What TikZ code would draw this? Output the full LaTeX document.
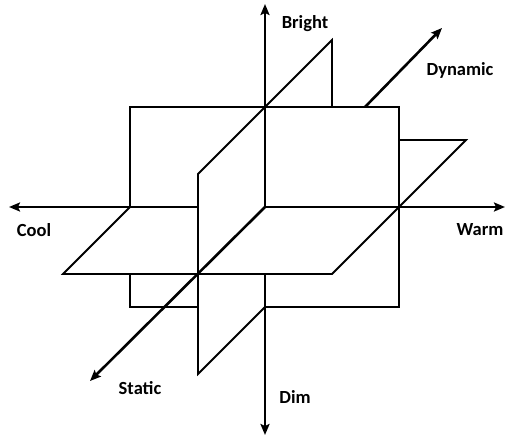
\documentclass[tikz,border=0pt]{standalone}
\usepackage{fontspec}
\setmainfont{Carlito}
\usetikzlibrary{arrows.meta}
\begin{document}
\begin{tikzpicture}[x=1pt,y=-1pt,
  plane/.style={line width=1.8pt, line join=miter},
  axis/.style={line width=2.6pt, -{Stealth[length=11pt,width=9pt,inset=2pt]}},
  lbl/.style={font=\fontsize{18.5}{22}\selectfont\bfseries, inner sep=0pt}]
\useasboundingbox (0,0) rectangle (506,436);
% key points
\coordinate (O) at (265,207);
\coordinate (A) at (130,107);
\coordinate (B) at (399,107);
\coordinate (C) at (399,307);
\coordinate (D) at (130,307);
\coordinate (H1) at (63,274);
\coordinate (H2) at (332,274);
\coordinate (H3) at (466,140);
\coordinate (H3v) at (399,140);
\coordinate (S1) at (198,174);
\coordinate (S2) at (332,40);
\coordinate (S2v) at (332,107);
\coordinate (S4) at (198,374);
\coordinate (Lm) at (130,207);
\coordinate (Ll) at (130,274);
\coordinate (Db) at (198,307);
\coordinate (Dm) at (265,307);
\coordinate (Sx) at (198,207);
\coordinate (Vb) at (265,274);
\coordinate (Zb) at (365,107);
% axis tips
\coordinate (Top) at (265,4);
\coordinate (Bot) at (265,435);
\coordinate (Lft) at (9,207);
\coordinate (Rgt) at (505,207);
\coordinate (Dyn) at (442,28);
\coordinate (Sta) at (90,381);
% front plane
\draw[plane] (Lm) -- (A) -- (B) -- (C) -- (Dm);
\draw[plane] (Db) -- (D) -- (Ll);
% horizontal plane
\draw[plane] (Lm) -- (H1) -- (H2) -- (H3) -- (H3v);
% side plane
\draw[plane] (S2v) -- (S2) -- (S1) -- (S4) -- (Dm);
% axes
\draw[axis] (O) -- (Top);
\draw[axis] (Vb) -- (Bot);
\draw[axis] (Sx) -- (Lft);
\draw[axis] (O) -- (Rgt);
\draw[axis] (O) -- (Sta);
\draw[axis] (Zb) -- (Dyn);
% labels
\node[lbl] (bright) at (305,24) {Bright};
\node[lbl] (dynamic) at (460,70) {Dynamic};
\node[lbl] (cool) at (34,230) {Cool};
\node[lbl] (warm) at (480,230) {Warm};
\node[lbl] (static) at (140,388) {Static};
\node[lbl] (dim) at (295,397) {Dim};
\end{tikzpicture}
\end{document}
